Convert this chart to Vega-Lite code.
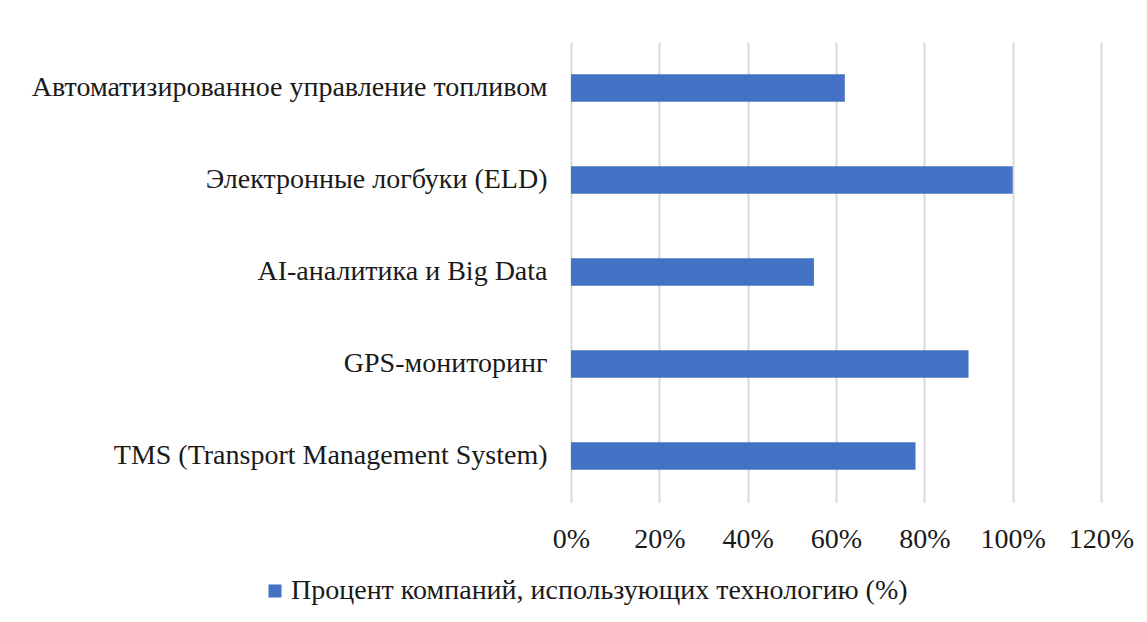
{
  "$schema": "https://vega.github.io/schema/vega-lite/v6.json",
  "autosize": "none",
  "width": 530,
  "height": 460,
  "padding": {"left": 571, "top": 42, "right": 46, "bottom": 120},
  "background": "white",
  "data": {"values": [
    {"tech": "Автоматизированное управление топливом", "value": 0.62, "series": "Процент компаний, использующих технологию (%)"},
    {"tech": "Электронные логбуки (ELD)", "value": 1.00, "series": "Процент компаний, использующих технологию (%)"},
    {"tech": "AI-аналитика и Big Data", "value": 0.55, "series": "Процент компаний, использующих технологию (%)"},
    {"tech": "GPS-мониторинг", "value": 0.90, "series": "Процент компаний, использующих технологию (%)"},
    {"tech": "TMS (Transport Management System)", "value": 0.78, "series": "Процент компаний, использующих технологию (%)"}
  ]},
  "mark": {"type": "bar"},
  "encoding": {
    "y": {"field": "tech", "type": "nominal", "sort": null,
      "scale": {"paddingInner": 0.7, "paddingOuter": 0.35},
      "axis": {"title": null, "domain": false, "ticks": false, "labelPadding": 24,
        "labelFont": "Liberation Serif", "labelFontSize": 28, "labelColor": "#1a1a1a", "labelLimit": 700}},
    "x": {"field": "value", "type": "quantitative",
      "scale": {"domain": [0, 1.2], "nice": false},
      "axis": {"title": null, "format": ".0%", "values": [0, 0.2, 0.4, 0.6, 0.8, 1.0, 1.2],
        "domain": false, "ticks": false, "labelPadding": 23, "labelFlush": false, "grid": true,
        "gridColor": "#d9d9d9", "gridWidth": 2,
        "labelFont": "Liberation Serif", "labelFontSize": 28, "labelColor": "#1a1a1a"}},
    "color": {"field": "series", "type": "nominal",
      "scale": {"range": ["#4472c4"]},
      "legend": {"title": null, "orient": "none", "legendX": -310, "legendY": 535,
        "symbolType": "square", "symbolSize": 170, "labelFont": "Liberation Serif",
        "labelFontSize": 28, "labelColor": "#1a1a1a", "labelLimit": 900, "labelOffset": 2}}
  },
  "config": {"view": {"stroke": null}}
}
